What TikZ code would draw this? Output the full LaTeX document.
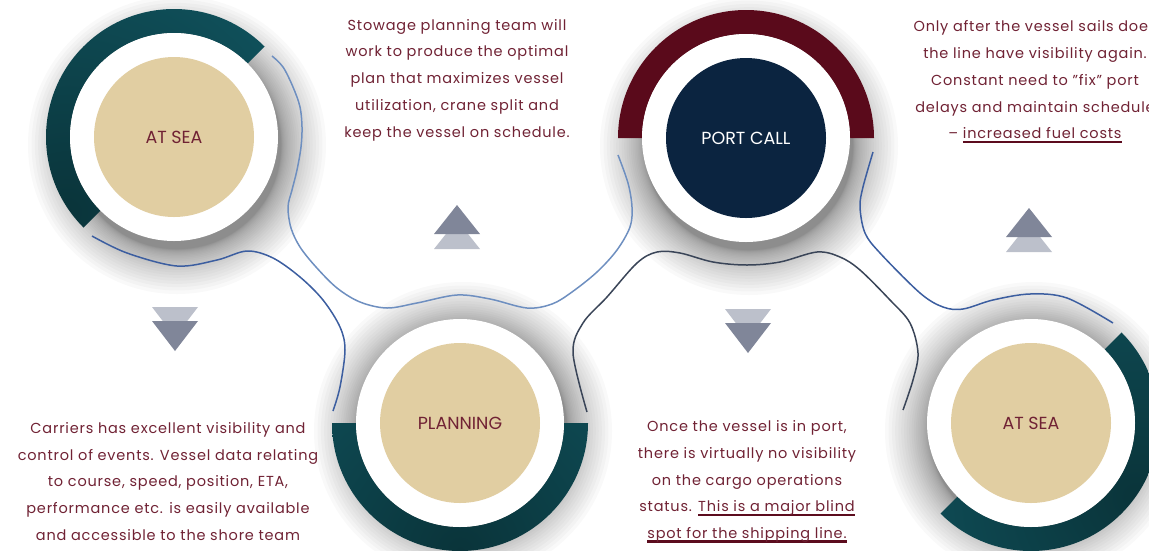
\documentclass[tikz,border=0pt]{standalone}
\usepackage{fontspec}
\setmainfont{Poppins}[LetterSpace=5.5]
\newfontfamily\labelfont{Poppins}
\usetikzlibrary{calc}

\definecolor{txt}{RGB}{112,34,52}
\definecolor{ulred}{RGB}{92,12,30}
\definecolor{tan}{RGB}{225,206,162}
\definecolor{navy}{RGB}{11,36,64}
\definecolor{wine}{RGB}{90,10,27}
\definecolor{ringteal}{RGB}{16,84,95}
\definecolor{ringdark}{RGB}{10,52,58}
\definecolor{tridark}{RGB}{128,134,153}
\definecolor{trilight}{RGB}{188,192,203}
\definecolor{lineA}{RGB}{110,143,192}
\definecolor{lineB}{RGB}{60,94,160}
\definecolor{lineC}{RGB}{58,69,88}

% thick underline drawn below the baseline
\newsavebox\ulbox
\newcommand\thickul[1]{\sbox\ulbox{#1}\rlap{\smash{\raisebox{-4pt}{\color{ulred}\rule{\wd\ulbox}{2.3pt}}}}\usebox\ulbox}

\tikzset{
  body/.style={align=center, text=txt, font=\fontsize{14.5}{26.75}\selectfont},
  label/.style={circle, inner sep=0pt, minimum size=160pt, font=\labelfont\fontsize{17.5}{20}\selectfont},
  wave/.style={line width=1.5pt, smooth, tension=0.55},
  uparrows/.pic={
    \fill[trilight] (-23,15) -- (23,15) -- (0,-14) -- cycle;
    \fill[tridark] (-23,0) -- (23,0) -- (0,-29) -- cycle;
  },
  downarrows/.pic={
    \fill[trilight] (-23,-14) -- (23,-14) -- (0,16) -- cycle;
    \fill[tridark] (-23,0) -- (23,0) -- (0,30) -- cycle;
  },
}

\begin{document}
\begin{tikzpicture}[x=1pt,y=-1pt]
\useasboundingbox (0,0) rectangle (1149,550);
\clip (0,0) rectangle (1149,550);

\coordinate (c1) at (174,137);
\coordinate (c2) at (746,138);
\coordinate (c3) at (460,423);
\coordinate (c4) at (1031,423);

% soft shadows around the discs, densest close to the rim
\foreach \c in {c1,c2,c3,c4}{
  \foreach \i in {1,...,25}{
    \fill[black,opacity=0.022] ($(\c)+(3,8)$) circle ({104+0.072*\i*\i});
  }
}

% connecting waves
\draw[lineA,wave] plot coordinates {(272,56) (283,67) (293,87) (300,107) (302,127) (301,147) (297,170) (292,190) (288,207) (291,228) (300,247) (316,267) (337,288) (360,302) (387,308) (417,303) (457,295) (490,299) (527,308) (552,304) (572,292) (597,272) (617,250) (630,227) (632,207) (628,183) (618,155)};
\draw[lineB,wave] plot coordinates {(92,236) (127,253) (177,266) (217,260) (247,251) (273,258) (300,277) (323,300) (340,327) (345,350) (340,387) (333,411)};
\draw[lineC,wave] plot coordinates {(587,412) (573,353) (583,323) (607,297) (637,263) (657,252) (680,253) (713,262) (747,265) (780,262) (817,252) (840,257) (860,270) (890,300) (910,323) (918,353) (913,380) (903,410)};
\draw[lineB,wave] plot coordinates {(873,152) (863,187) (860,207) (865,233) (880,253) (920,293) (943,307) (963,309) (993,300) (1030,294) (1067,298) (1113,323)};

% ring segments
\begin{scope}
  \clip ($(c1)+(-45:128)$) arc[start angle=-45, end angle=-225, radius=128]
     -- ($(c1)+(-225:104)$) arc[start angle=-225, end angle=-45, radius=104] -- cycle;
  \shade[inner color=ringdark, outer color=ringteal] ($(c1)+(-215:130)$) circle (300);
\end{scope}
\fill[wine] ($(c2)+(0:128)$) arc[start angle=0, end angle=-180, radius=128]
     -- ($(c2)+(-180:104)$) arc[start angle=-180, end angle=0, radius=104] -- cycle;
\begin{scope}
  \clip ($(c3)+(180:128)$) arc[start angle=180, end angle=0, radius=128]
     -- ($(c3)+(0:104)$) arc[start angle=0, end angle=180, radius=104] -- cycle;
  \shade[inner color=ringdark, outer color=ringteal] ($(c3)+(90:128)$) circle (300);
\end{scope}
\begin{scope}
  \clip ($(c4)+(-45:128)$) arc[start angle=-45, end angle=135, radius=128]
     -- ($(c4)+(135:104)$) arc[start angle=135, end angle=-45, radius=104] -- cycle;
  \shade[inner color=ringdark, outer color=ringteal] ($(c4)+(35:128)$) circle (300);
\end{scope}

% white discs and labels
\foreach \c in {c1,c2,c3,c4}{ \fill[white] (\c) circle (104); }
\node[label, fill=tan, text=txt] (atsea1) at (c1) {AT SEA};
\node[label, fill=navy, text=white] (port) at (c2) {PORT CALL};
\node[label, fill=tan, text=txt] (plan) at (c3) {PLANNING};
\node[label, fill=tan, text=txt] (atsea2) at (c4) {AT SEA};

% direction marks
\pic at (457,234) {uparrows};
\pic at (1029,237) {uparrows};
\pic at (175,321) {downarrows};
\pic at (748,323) {downarrows};

% descriptions
\node[body] (t1) at (457,80) {Stowage planning team will\\work to produce the optimal\\plan that maximizes vessel\\utilization, crane split and\\keep the vessel on schedule.};
\node[body] (t2) at (1035,80) {Only after the vessel sails does\\the line have visibility again.\\Constant need to "fix" port\\delays and maintain schedule\\– \thickul{increased fuel costs}};
\node[body] (t3) at (168,481.5) {Carriers has excellent visibility and\\control of events. Vessel data relating\\to course, speed, position, ETA,\\performance etc. is easily available\\and accessible to the shore team};
\node[body] (t4) at (747,481.5) {Once the vessel is in port,\\there is virtually no visibility\\on the cargo operations\\status. \thickul{This is a major blind}\\\thickul{spot for the shipping line.}};
\end{tikzpicture}
\end{document}
